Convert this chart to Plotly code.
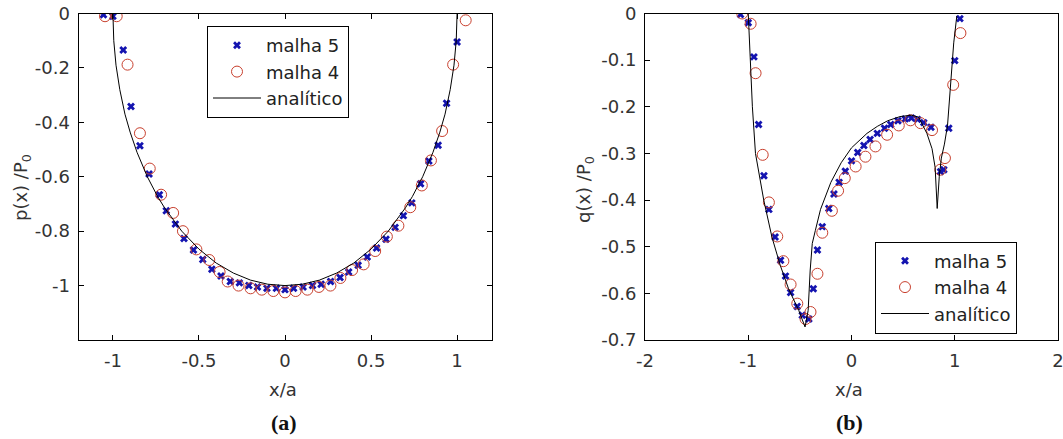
import plotly.graph_objects as go

# ---------------- data: plot (a) p(x)/P0 ----------------
a_m5_x = [-1.055, -1.0, -0.94, -0.895, -0.843, -0.79, -0.73, -0.69, -0.637, -0.587, -0.532, -0.478,
          -0.425, -0.372, -0.318, -0.265, -0.21, -0.16, -0.105, -0.05, 0.0, 0.05, 0.105, 0.16, 0.21,
          0.265, 0.32, 0.37, 0.425, 0.478, 0.532, 0.587, 0.64, 0.688, 0.737, 0.788, 0.836, 0.89, 0.939, 1.0]
a_m5_y = [-0.005, -0.01, -0.134, -0.342, -0.486, -0.59, -0.666, -0.725, -0.774, -0.827, -0.869, -0.904,
          -0.94, -0.965, -0.985, -0.99, -1.0, -1.005, -1.01, -1.01, -1.015, -1.01, -1.005, -1.0, -0.995,
          -0.985, -0.97, -0.95, -0.925, -0.895, -0.862, -0.83, -0.786, -0.743, -0.696, -0.626, -0.542, -0.484, -0.33, -0.105]

a_m4_x = [-1.046, -0.978, -0.915, -0.843, -0.786, -0.72, -0.65, -0.593, -0.515, -0.44, -0.38, -0.333,
          -0.27, -0.2, -0.135, -0.068, 0.0, 0.062, 0.13, 0.197, 0.264, 0.322, 0.39, 0.457, 0.524, 0.592,
          0.659, 0.728, 0.795, 0.848, 0.913, 0.977, 1.05]
a_m4_y = [-0.01, -0.01, -0.188, -0.44, -0.57, -0.666, -0.733, -0.80, -0.867, -0.906, -0.95, -0.985,
          -1.0, -1.01, -1.015, -1.02, -1.025, -1.02, -1.015, -1.005, -1.0, -0.972, -0.943, -0.922, -0.873,
          -0.82, -0.78, -0.712, -0.632, -0.54, -0.432, -0.188, -0.025]

a_an_x = [-1.0, -0.995, -0.982, -0.96, -0.93, -0.9, -0.86, -0.8, -0.74, -0.7, -0.6, -0.5, -0.4, -0.3,
          -0.2, -0.1, 0.0, 0.1, 0.2, 0.3, 0.4, 0.5, 0.6, 0.7, 0.74, 0.8, 0.86, 0.9, 0.93, 0.96, 0.982, 0.995, 1.0]
a_an_y = [0.0, -0.1, -0.19, -0.28, -0.37, -0.436, -0.51, -0.6, -0.673, -0.714, -0.8, -0.866, -0.917, -0.954,
          -0.98, -0.995, -1.0, -0.995, -0.98, -0.954, -0.917, -0.866, -0.8, -0.714, -0.673, -0.6, -0.51,
          -0.436, -0.37, -0.28, -0.19, -0.1, 0.0]

# ---------------- data: plot (b) q(x)/P0 ----------------
b_m5_x = [-1.075, -1.0, -0.945, -0.90, -0.848, -0.80, -0.74, -0.687, -0.639, -0.59, -0.526, -0.477, -0.413,
          -0.37, -0.33, -0.283, -0.22, -0.17, -0.12, -0.06, 0.0, 0.06, 0.12, 0.18, 0.25, 0.32, 0.38, 0.45,
          0.52, 0.58, 0.64, 0.70, 0.77, 0.862, 0.894, 0.942, 1.0, 1.05]
b_m5_y = [-0.002, -0.02, -0.093, -0.238, -0.348, -0.42, -0.479, -0.529, -0.563, -0.598, -0.628, -0.647, -0.655,
          -0.59, -0.507, -0.457, -0.418, -0.387, -0.362, -0.338, -0.316, -0.298, -0.283, -0.27, -0.257, -0.246,
          -0.238, -0.23, -0.226, -0.224, -0.227, -0.234, -0.244, -0.339, -0.335, -0.246, -0.101, -0.011]

b_m4_x = [-1.058, -0.977, -0.929, -0.86, -0.80, -0.719, -0.66, -0.59, -0.525, -0.445, -0.397, -0.33, -0.283,
          -0.19, -0.13, -0.065, 0.04, 0.135, 0.232, 0.345, 0.458, 0.571, 0.668, 0.78, 0.86, 0.905, 0.985, 1.055]
b_m4_y = [0.0, -0.022, -0.128, -0.303, -0.405, -0.478, -0.531, -0.581, -0.622, -0.655, -0.64, -0.558, -0.47,
          -0.423, -0.38, -0.353, -0.328, -0.307, -0.285, -0.26, -0.24, -0.229, -0.235, -0.25, -0.335, -0.31,
          -0.153, -0.042]

b_an_x = [-1.0, -0.99, -0.983, -0.96, -0.93, -0.85, -0.77, -0.69, -0.61, -0.51, -0.45, -0.42, -0.40, -0.38,
          -0.35, -0.30, -0.20, -0.10, 0.0, 0.15, 0.25, 0.35, 0.47, 0.58, 0.65, 0.73, 0.78, 0.81, 0.83, 0.85,
          0.87, 0.90, 0.93, 0.96, 0.99, 1.02]
b_an_y = [0.0, -0.05, -0.1, -0.2, -0.3, -0.4, -0.48, -0.54, -0.59, -0.637, -0.672, -0.637, -0.55, -0.493,
          -0.465, -0.42, -0.362, -0.32, -0.288, -0.257, -0.242, -0.23, -0.221, -0.218, -0.222, -0.257, -0.29,
          -0.33, -0.418, -0.35, -0.31, -0.28, -0.24, -0.15, -0.063, -0.005]

# ---------------- ticks / labels ----------------
a_xticks = [-1, -0.5, 0, 0.5, 1]
a_xlabels = ["-1", "-0.5", "0", "0.5", "1"]
a_yticks = [0, -0.2, -0.4, -0.6, -0.8, -1]
a_ylabels = ["0", "-0.2", "-0.4", "-0.6", "-0.8", "-1"]
b_xticks = [-2, -1, 0, 1, 2]
b_xlabels = ["-2", "-1", "0", "1", "2"]
b_yticks = [0, -0.1, -0.2, -0.3, -0.4, -0.5, -0.6, -0.7]
b_ylabels = ["0", "-0.1", "-0.2", "-0.3", "-0.4", "-0.5", "-0.6", "-0.7"]
names = ["malha 5", "malha 4", "analítico"]

W, H = 1063, 439
FONT = "DejaVu Sans"
BLUE = "#1414b0"
RED = "#c8402e"

fig = go.Figure()

def add_set(xa, ya, leg, mx5, my5, mx4, my4, lx, ly):
    fig.add_trace(go.Scatter(x=mx5, y=my5, mode="markers", name=names[0], xaxis=xa, yaxis=ya, legend=leg,
                             marker=dict(symbol="x", size=7, color=BLUE, line=dict(width=0))))
    fig.add_trace(go.Scatter(x=mx4, y=my4, mode="markers", name=names[1], xaxis=xa, yaxis=ya, legend=leg,
                             marker=dict(symbol="circle-open", size=11, color=RED, line=dict(width=1, color=RED))))
    fig.add_trace(go.Scatter(x=lx, y=ly, mode="lines", name=names[2], xaxis=xa, yaxis=ya, legend=leg,
                             line=dict(color="black", width=1)))

add_set("x", "y", "legend", a_m5_x, a_m5_y, a_m4_x, a_m4_y, a_an_x, a_an_y)
add_set("x2", "y2", "legend2", b_m5_x, b_m5_y, b_m4_x, b_m4_y, b_an_x, b_an_y)

tickfont = dict(family=FONT, size=18, color="#333333")
ydom = [1 - 340 / H, 1 - 13.5 / H]

def ax(dom, rng, tv, tt, anchor, mirror):
    return dict(domain=dom, range=rng, tickvals=tv, ticktext=tt, anchor=anchor, showgrid=False,
                zeroline=False, showline=True, linecolor="black", linewidth=1, mirror=mirror,
                ticks="inside", ticklen=5, tickcolor="black", tickfont=tickfont, automargin=False,
                ticklabelstandoff=4, ticklabeloverflow="allow")

legfont = dict(family=FONT, size=18, color="#222222")

fig.update_layout(
    width=W, height=H,
    margin=dict(l=0, r=0, t=0, b=0),
    paper_bgcolor="white", plot_bgcolor="white",
    xaxis=ax([78.5 / W, 491.5 / W], [-1.2, 1.2], a_xticks, a_xlabels, "y", "ticks"),
    yaxis=ax(ydom, [-1.2, 0], a_yticks, a_ylabels, "x", "ticks"),
    xaxis2=ax([645 / W, 1058 / W], [-2, 2], b_xticks, b_xlabels, "y2", True),
    yaxis2=ax(ydom, [-0.7, 0], b_yticks, b_ylabels, "x2", True),
    legend=dict(x=207 / W, y=1 - 26 / H, xanchor="left", yanchor="top", bgcolor="white",
                bordercolor="black", borderwidth=1, font=legfont, tracegroupgap=0, itemwidth=48),
    legend2=dict(x=875 / W, y=1 - 241.5 / H, xanchor="left", yanchor="top", bgcolor="white",
                 bordercolor="black", borderwidth=1, font=legfont, tracegroupgap=0, itemwidth=48),
    showlegend=True,
)

def note(text, px, py, size=18, family=FONT, angle=0, color="#333333"):
    fig.add_annotation(text=text, x=px / W, y=1 - py / H, xref="paper", yref="paper",
                       showarrow=False, textangle=angle, xanchor="center", yanchor="middle",
                       font=dict(family=family, size=size, color=color))

note("x/a", 283, 389)
note("x/a", 849, 389)
note("p(x) /P<sub>0</sub>", 22, 188, angle=-90)
note("q(x) /P<sub>0</sub>", 585, 190, angle=-90)
note("<b>(a)</b>", 284, 422, size=22, family="Liberation Serif", color="#111111")
note("<b>(b)</b>", 849, 422, size=22, family="Liberation Serif", color="#111111")

fig.write_html("out.html")
